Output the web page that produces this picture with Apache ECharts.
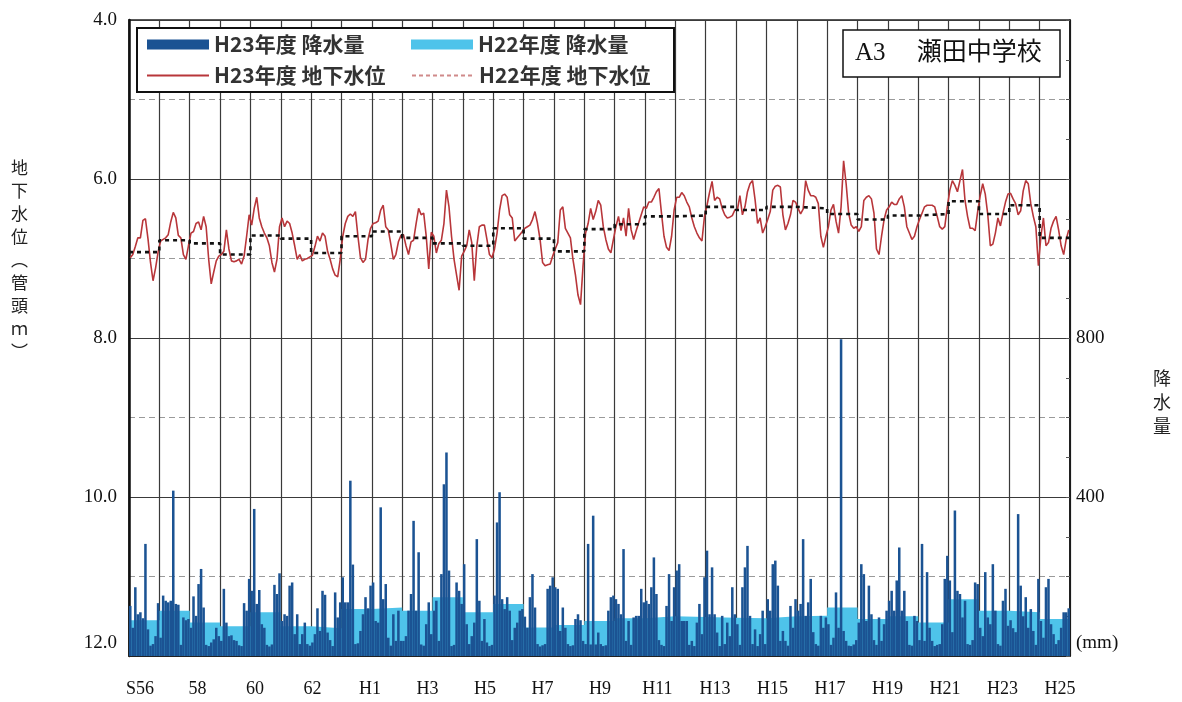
<!DOCTYPE html>
<html><head><meta charset="utf-8">
<script src="https://cdn.jsdelivr.net/npm/echarts@6/dist/echarts.min.js"></script>
<style>html,body{margin:0;padding:0;background:#fff}#c{width:1182px;height:702px}</style>
</head><body><div id="c"></div>
<script>
// Fiscal years S56 (1981) .. H23 (2011), monthly Apr..Mar
const fiscalYears = ['S56','S57','S58','S59','S60','S61','S62','S63','H1','H2','H3','H4','H5','H6','H7','H8','H9','H10','H11','H12','H13','H14','H15','H16','H17','H18','H19','H20','H21','H22','H23'];

// H23年度 地下水位 (m, monthly)
const levelH23 = [
 6.99,6.95,6.85,6.74,6.74,6.52,6.50,6.75,7.05,7.28,7.12,6.92,
 6.78,6.76,6.74,6.70,6.54,6.42,6.49,6.71,6.74,6.95,7.01,6.84,
 6.68,6.66,6.56,6.54,6.64,6.47,6.60,7.01,7.32,7.17,7.03,6.97,
 6.95,6.91,6.64,6.88,7.03,7.04,7.03,7.01,7.07,6.97,6.72,6.45,
 6.58,6.37,6.23,6.49,6.60,6.68,6.74,6.84,7.05,7.17,7.01,6.60,
 6.49,6.60,6.53,6.56,6.68,6.84,7.01,6.95,7.03,7.01,7.00,6.98,
 6.96,6.85,6.72,6.78,6.68,6.72,6.91,7.01,7.13,7.21,7.23,7.01,
 6.72,6.56,6.47,6.44,6.47,6.41,6.72,6.99,7.05,7.01,6.76,6.62,
 6.56,6.55,6.53,6.39,6.33,6.60,6.64,6.82,7.01,6.95,6.79,6.71,
 6.70,6.84,6.95,6.79,6.77,6.56,6.37,6.45,6.43,6.72,7.13,6.67,
 6.72,6.93,6.81,6.77,6.56,6.14,6.35,6.72,7.01,7.21,7.40,6.97,
 6.91,6.84,6.64,6.80,7.28,6.84,6.60,6.58,6.58,6.76,6.95,6.99,
 6.88,6.68,6.39,6.21,6.19,6.23,6.45,6.49,6.78,6.74,6.70,6.66,
 6.62,6.60,6.58,6.51,6.41,6.56,6.76,7.05,7.09,7.08,7.07,6.97,
 6.88,6.80,6.39,6.35,6.62,6.68,6.74,7.01,7.21,7.46,7.58,7.09,
 6.68,6.56,6.37,6.51,6.41,6.27,6.33,6.60,6.76,6.88,6.93,6.76,
 6.60,6.47,6.65,6.49,6.72,6.37,6.64,6.76,6.65,6.55,6.45,6.35,
 6.37,6.29,6.29,6.23,6.16,6.12,6.43,6.72,6.86,6.90,6.72,6.39,
 6.23,6.23,6.17,6.21,6.29,6.35,6.49,6.60,6.68,6.74,6.78,6.47,
 6.33,6.17,6.03,6.27,6.23,6.25,6.37,6.45,6.49,6.48,6.46,6.39,
 6.39,6.21,6.45,6.35,6.16,6.06,6.02,6.26,6.56,6.49,6.68,6.60,
 6.51,6.41,6.14,6.09,6.08,6.10,6.45,6.64,6.56,6.45,6.27,6.29,
 6.37,6.44,6.38,6.02,6.14,6.21,6.21,6.23,6.31,6.72,6.86,6.72,
 6.60,6.39,6.32,6.53,6.68,6.35,5.77,6.06,6.43,6.58,6.62,6.60,
 6.66,6.60,6.27,6.23,6.21,6.25,6.43,6.88,6.95,6.72,6.51,6.39,
 6.35,6.29,6.32,6.32,6.25,6.21,6.35,6.60,6.68,6.76,6.72,6.60,
 6.51,6.43,6.35,6.33,6.33,6.33,6.35,6.47,6.60,6.63,6.60,6.35,
 6.14,6.02,6.08,6.16,6.02,5.88,6.27,6.47,6.62,6.62,6.65,6.41,
 6.21,6.06,6.19,6.45,6.84,6.82,6.68,6.49,6.59,6.43,6.29,6.19,
 6.18,6.25,6.31,6.45,6.40,6.15,6.02,6.06,6.31,6.47,6.60,7.09,
 6.72,6.49,6.84,6.80,6.62,6.53,6.47,6.64,6.84,6.95,6.76,6.64
];

// H23年度 降水量 (mm, monthly)
const rainH23 = [
 126,71,173,105,110,95,282,67,26,30,50,133,
 46,152,139,135,139,416,131,129,28,97,90,93,
 71,150,101,181,219,122,28,25,34,42,71,50,
 38,169,84,50,52,40,38,27,25,133,114,194,
 164,370,131,166,80,71,28,24,29,179,156,208,
 88,105,101,177,185,55,105,30,55,84,30,26,
 34,55,120,63,164,154,59,40,25,160,97,135,
 198,135,135,441,230,30,32,63,105,148,120,177,
 185,88,84,374,143,181,46,26,105,38,114,38,
 38,50,114,156,340,114,261,29,26,80,135,55,
 114,139,38,206,432,512,215,25,28,185,164,131,
 231,80,30,50,84,294,139,38,93,34,25,28,
 152,336,412,143,118,148,114,40,71,84,114,118,
 99,71,148,206,122,30,24,27,30,169,177,198,
 173,169,63,122,71,30,25,27,93,105,90,38,
 30,282,29,353,29,59,30,25,27,114,148,152,
 143,131,105,269,38,88,28,97,101,101,169,135,
 139,131,173,248,156,40,28,25,126,206,88,173,
 215,231,88,88,88,28,38,25,84,131,55,198,
 265,105,223,105,59,25,101,30,84,50,173,105,
 80,28,173,223,277,101,30,67,25,55,114,30,
 143,114,231,240,177,38,63,38,26,126,71,143,
 114,131,294,101,135,194,60,30,26,101,71,97,
 80,28,46,160,71,797,63,38,26,25,29,40,
 84,231,206,88,177,105,40,28,97,38,80,114,
 139,164,114,190,273,114,164,88,28,26,101,88,
 40,282,38,211,71,38,25,28,30,80,194,252,
 190,60,366,164,156,97,139,30,28,40,185,181,
 71,50,211,97,80,231,114,30,26,139,169,76,
 90,70,60,357,177,100,148,71,118,63,28,194,
 88,46,173,194,80,55,30,40,71,110,110,120
];

// H22年度 (annual values, one per fiscal year)
const levelH22 = [6.92,6.77,6.81,6.95,6.71,6.75,6.93,6.72,6.66,6.74,6.81,6.84,6.62,6.75,6.91,6.63,6.57,6.47,6.46,6.35,6.39,6.35,6.37,6.44,6.51,6.46,6.44,6.28,6.44,6.33,6.74];
const rainH22 = [90,114,84,75,110,75,70,118,122,114,148,110,131,72,78,88,95,100,98,96,95,100,101,122,93,100,84,143,114,110,93];

// x-axis tick labels and the fiscal years they stand for
const tickLabels = ['S56','58','60','62','H1','H3','H5','H7','H9','H11','H13','H15','H17','H19','H21','H23','H25'];
const tickYears = [1981,1983,1985,1987,1989,1991,1993,1995,1997,1999,2001,2003,2005,2007,2009,2011,2013];

const nMonths = fiscalYears.length * 12;
const levelData = levelH23.map((v, i) => [i + 0.5, v]);
const rainData = rainH23.map((v, i) => [i + 0.5, v]);
const stepData = arr => { const out = []; arr.forEach((v, k) => { out.push([k * 12, v]); out.push([k * 12 + 12, v]); }); return out; };

const serif = "'Liberation Serif','DejaVu Serif',serif";
const cjk = "'Noto Sans CJK JP','Noto Sans',sans-serif";
const chart = echarts.init(document.getElementById('c'), null, {renderer: 'canvas'});

chart.setOption({
  backgroundColor: '#fff',
  animation: false,
  title: {
    text: 'A3\u3000 瀬田中学校', left: 843, top: 30,
    borderColor: '#111', borderWidth: 1.5, backgroundColor: '#fff',
    padding: [11, 18, 11, 12],
    textStyle: {fontFamily: "'Liberation Serif','Noto Sans CJK JP',serif", fontSize: 25, fontWeight: 'normal', color: '#111'}
  },
  legend: {
    left: 137, top: 28, width: 550,
    orient: 'horizontal',
    backgroundColor: '#fff', borderColor: '#111', borderWidth: 2,
    padding: [6, 8, 6, 9],
    itemWidth: 62, itemHeight: 10, itemGap: 10,
    textStyle: {fontFamily: cjk, fontSize: 21, fontWeight: 'bold', color: '#333', width: 187, lineHeight: 20},
    data: [
      {name: 'H23年度 降水量', icon: 'rect'},
      {name: 'H22年度 降水量', icon: 'rect'},
      {name: 'H23年度 地下水位', itemStyle: {opacity: 0}},
      {name: 'H22年度 地下水位', itemStyle: {opacity: 0}, lineStyle: {color: '#d08a8a', type: [4, 3], width: 2}}
    ]
  },
  grid: {left: 129, right: 112, top: 20, bottom: 46, show: true, borderColor: '#222', borderWidth: 1.5},
  xAxis: [
    {
      type: 'value', min: 0, max: nMonths, interval: 12,
      axisLine: {show: true, lineStyle: {color: '#222', width: 1}},
      axisTick: {show: false}, axisLabel: {show: false},
      splitLine: {show: true, lineStyle: {color: '#3a3a3a', width: 1.2}}
    },
    {
      type: 'value', min: 1980.62, max: 2013.35, position: 'bottom',
      axisLine: {show: false}, axisTick: {show: false}, splitLine: {show: false},
      axisLabel: {
        customValues: tickYears, margin: 24,
        fontFamily: serif, fontSize: 18, color: '#111',
        formatter: v => tickLabels[tickYears.indexOf(v)] || ''
      }
    }
  ],
  yAxis: [
    {
      type: 'value', inverse: true, min: 4, max: 12, interval: 2, position: 'left',
      axisLine: {show: true, lineStyle: {color: '#111', width: 2.5}},
      axisTick: {show: false},
      axisLabel: {
        margin: 12, fontFamily: serif, fontSize: 19, color: '#111',
        formatter: v => v === 12 ? '{b|' + v.toFixed(1) + '}' : v.toFixed(1),
        rich: {b: {fontFamily: serif, fontSize: 19, color: '#111', padding: [0, 0, 26, 0]}}
      },
      splitLine: {show: true, lineStyle: {color: '#3a3a3a', width: 1.2}},
      minorTick: {show: false, splitNumber: 2},
      minorSplitLine: {show: true, lineStyle: {color: '#9a9a9a', width: 1, type: [6, 4]}}
    },
    {
      type: 'value', min: 0, max: 1600, interval: 100, position: 'right',
      axisLine: {show: true, lineStyle: {color: '#111', width: 1.5}},
      axisTick: {show: true, inside: true, length: 4, lineStyle: {color: '#555'}},
      splitLine: {show: false},
      axisLabel: {
        customValues: [0, 400, 800], margin: 6,
        fontFamily: serif, fontSize: 19, color: '#111',
        formatter: v => v === 0 ? '{b|(mm)}' : String(v),
        rich: {b: {fontFamily: serif, fontSize: 19, color: '#111', padding: [0, 0, 26, 0]}}
      }
    }
  ],
  graphic: [
    {type: 'text', left: 11, top: 156, style: {text: '地\n下\n水\n位\n︵\n管\n頭\nｍ\n︶', font: "17px 'Noto Sans CJK JP'", lineHeight: 23, fill: '#222', align: 'center'}},
    {type: 'text', left: 1153, top: 366, style: {text: '降\n水\n量', font: "18px 'Noto Sans CJK JP'", lineHeight: 24, fill: '#222', align: 'center'}}
  ],
  series: [
    {
      name: 'H22年度 降水量', type: 'line', xAxisIndex: 0, yAxisIndex: 1,
      data: stepData(rainH22), symbol: 'none', z: 1,
      color: '#4ec3ea', lineStyle: {width: 0, color: '#4ec3ea'},
      areaStyle: {color: '#4ec3ea', opacity: 1}
    },
    {
      name: 'H23年度 降水量', type: 'bar', xAxisIndex: 0, yAxisIndex: 1,
      data: rainData, barWidth: '100%', z: 2,
      itemStyle: {color: '#1b5393'}
    },
    {
      name: 'H23年度 地下水位', type: 'line', xAxisIndex: 0, yAxisIndex: 0,
      data: levelData, symbol: 'none', z: 4,
      color: '#b8363a', lineStyle: {color: '#b8363a', width: 1.6}
    },
    {
      name: 'H22年度 地下水位', type: 'line', xAxisIndex: 0, yAxisIndex: 0,
      data: stepData(levelH22), symbol: 'none', z: 5,
      color: '#111', lineStyle: {color: '#111', width: 2.6, type: [4, 4]}
    }
  ]
});
</script>
</body></html>
